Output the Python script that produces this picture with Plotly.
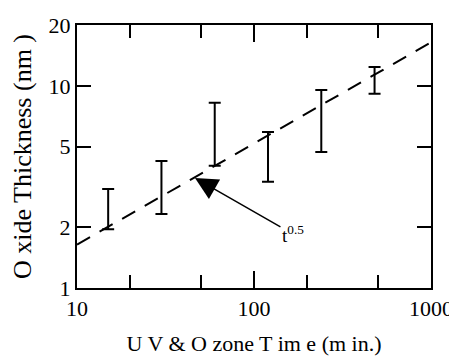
import math
import plotly.graph_objects as go

# data
times = [15, 30, 60, 120, 240, 480]
thick_low = [1.95, 2.32, 4.02, 3.35, 4.71, 9.13]
thick_high = [3.09, 4.25, 8.24, 5.92, 9.55, 12.4]
fit_x = [10, 1000]
fit_y = [1.64, 16.4]
x_ticks = [10, 100, 1000]
x_ticktext = ["10", "100", "1000"]
x_minor = [20, 50, 200, 500]
y_ticks = [1, 2, 5, 10, 20]
y_ticktext = ["1", "2", "5", "10", "20"]
arrow_head = (46.4, 3.5)
label_pos = (166, 1.85)

centers = [math.sqrt(lo * hi) for lo, hi in zip(thick_low, thick_high)]
err_plus = [hi - c for hi, c in zip(thick_high, centers)]
err_minus = [c - lo for lo, c in zip(thick_low, centers)]

FONT = "Liberation Serif"

fig = go.Figure()
fig.add_trace(go.Scatter(
    x=fit_x, y=fit_y, mode="lines",
    line=dict(color="black", width=2, dash="15px,11px"),
    showlegend=False, hoverinfo="skip"))
fig.add_trace(go.Scatter(
    x=times, y=centers, mode="markers",
    marker=dict(color="rgba(0,0,0,0)", size=1),
    error_y=dict(type="data", symmetric=False, array=err_plus, arrayminus=err_minus,
                 color="black", thickness=2, width=6),
    showlegend=False))

fig.add_annotation(
    x=math.log10(arrow_head[0]), y=math.log10(arrow_head[1]),
    ax=math.log10(label_pos[0]), ay=math.log10(label_pos[1]),
    axref="x", ayref="y", xref="x", yref="y",
    text="t<sup>0.5</sup>", showarrow=True, arrowhead=2, arrowsize=3, arrowwidth=1.5,
    arrowcolor="black", font=dict(family=FONT, size=19, color="black"))

axis_common = dict(
    automargin=False,
    showline=True, linecolor="black", linewidth=2, mirror="ticks",
    ticks="inside", tickwidth=2, tickcolor="black",
    showgrid=False, zeroline=False,
    tickfont=dict(family=FONT, size=22, color="black"))

fig.update_xaxes(type="log", range=[1, 3.0001], tickvals=x_ticks, ticktext=x_ticktext,
                 ticklen=17,
                 minor=dict(tickvals=x_minor, ticks="inside", ticklen=13, tickwidth=2,
                            tickcolor="black", showgrid=False),
                 title=dict(text="U V &amp; O zone T im e (m in.)",
                            font=dict(family=FONT, size=22, color="black"), standoff=19),
                 **axis_common)
fig.update_yaxes(type="log", range=[0, math.log10(20)], tickvals=y_ticks, ticktext=y_ticktext,
                 ticklen=14,
                 title=dict(text="O xide Thickness (nm )",
                            font=dict(family=FONT, size=26, color="black"), standoff=10),
                 **axis_common)

# the page body has an 8px margin, so the figure starts 8px in from the left and top
fig.update_layout(
    template="none",
    width=449, height=348,
    margin=dict(l=69, r=26, t=17, b=68),
    paper_bgcolor="white", plot_bgcolor="white",
    showlegend=False)

fig.write_html("out.html")
